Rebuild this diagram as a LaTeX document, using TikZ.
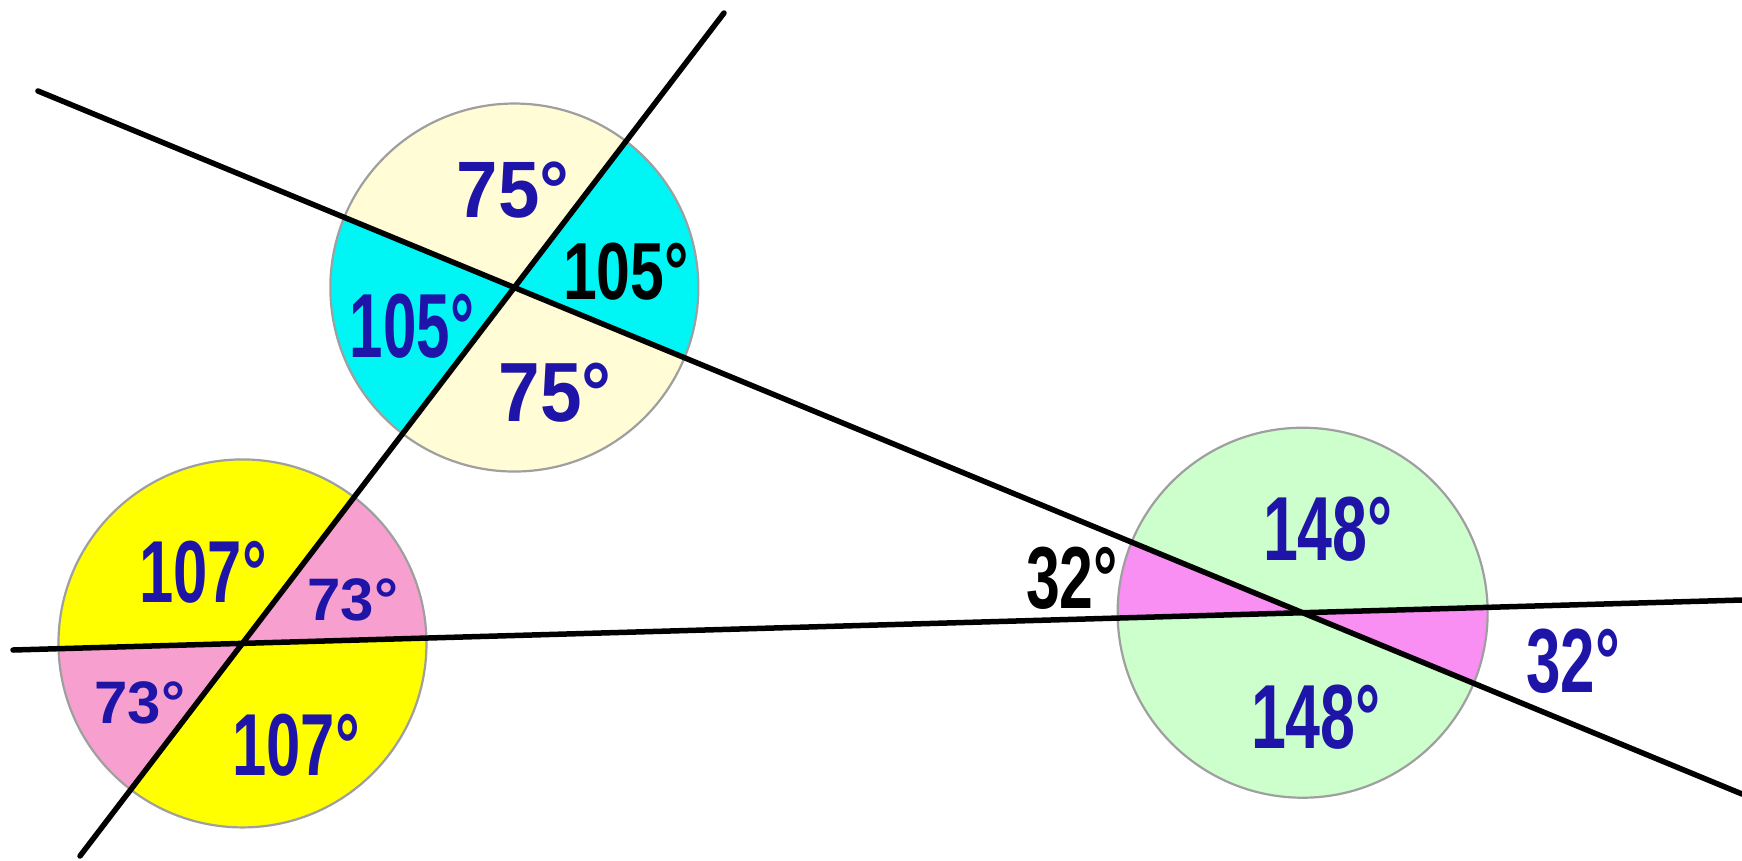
\documentclass[tikz,border=0pt]{standalone}
\usepackage{fontspec}
\setmainfont{Liberation Sans}
\usepackage{graphicx}
\definecolor{cream}{HTML}{FFFCD6}
\definecolor{cyanf}{HTML}{00F5F5}
\definecolor{yel}{HTML}{FFFF00}
\definecolor{pinkf}{HTML}{F7A0CF}
\definecolor{greenf}{HTML}{CCFFCC}
\definecolor{magf}{HTML}{F98EF3}
\definecolor{lblblue}{HTML}{1E14A8}
\newcommand{\mysector}[5]{\fill[#5] (#1) -- ++(#2:#4) arc[start angle=#2, end angle=#3, radius=#4] -- cycle;}
\newcommand{\lab}[3]{\scalebox{#2}[1]{\fontsize{#1}{#1}\selectfont\bfseries #3}}
\begin{document}
\begin{tikzpicture}[x=1pt,y=-1pt,
  ray/.style={line width=5.5pt, black, line cap=round},
  rim/.style={draw=gray!75, line width=2.2pt},
  lbl/.style={inner sep=0pt, text=lblblue},
  blk/.style={inner sep=0pt, text=black}]
\useasboundingbox (0,0) rectangle (1742,860);
\fill[white] (0,0) rectangle (1742,860);
\coordinate (A1) at (724,13);  \coordinate (A2) at (80,856);
\coordinate (B1) at (38,91);   \coordinate (B2) at (1742,794);
\coordinate (C1) at (13,650);  \coordinate (C2) at (1742,600);
\coordinate (P) at (intersection of A1--A2 and B1--B2);
\coordinate (Q) at (intersection of A1--A2 and C1--C2);
\coordinate (R) at (intersection of B1--B2 and C1--C2);
% top circle
\mysector{P}{-157.58}{-52.62}{184}{cream}
\mysector{P}{-52.62}{22.42}{184}{cyanf}
\mysector{P}{22.42}{127.38}{184}{cream}
\mysector{P}{127.38}{202.42}{184}{cyanf}
% bottom-left circle
\mysector{Q}{-52.62}{-1.66}{184}{pinkf}
\mysector{Q}{-1.66}{127.38}{184}{yel}
\mysector{Q}{127.38}{178.34}{184}{pinkf}
\mysector{Q}{178.34}{307.38}{184}{yel}
% right circle
\mysector{R}{-157.58}{-1.66}{185}{greenf}
\mysector{R}{-1.66}{22.42}{185}{magf}
\mysector{R}{22.42}{178.34}{185}{greenf}
\mysector{R}{178.34}{202.42}{185}{magf}
\draw[rim] (P) circle[radius=184];
\draw[rim] (Q) circle[radius=184];
\draw[rim] (R) circle[radius=185];
% lines
\draw[ray] (A1) -- (A2);
\draw[ray] (B1) -- (B2);
\draw[ray] (C1) -- (C2);
% labels top circle
\node[lbl] (t1) at (513,190) {\lab{80}{0.93}{75°}};
\node[blk] (t2) at (626,272) {\lab{81}{0.75}{105°}};
\node[lbl] (t3) at (412,326) {\lab{91}{0.66}{105°}};
\node[lbl] (t4) at (555,393) {\lab{84}{0.89}{75°}};
% labels bottom-left circle
\node[lbl] (q1) at (203,572) {\lab{88}{0.70}{107°}};
\node[lbl] (q2) at (353,600) {\lab{60}{1.0}{73°}};
\node[lbl] (q3) at (140,703) {\lab{60}{1.0}{73°}};
\node[lbl] (q4) at (296,745) {\lab{88}{0.70}{107°}};
% labels right circle
\node[lbl] (r1) at (1328,529) {\lab{91}{0.69}{148°}};
\node[lbl] (r2) at (1316,717) {\lab{91}{0.69}{148°}};
\node[blk] (r3) at (1072,578) {\lab{88}{0.69}{32°}};
\node[lbl] (r4) at (1573,661) {\lab{91}{0.68}{32°}};
\end{tikzpicture}
\end{document}
